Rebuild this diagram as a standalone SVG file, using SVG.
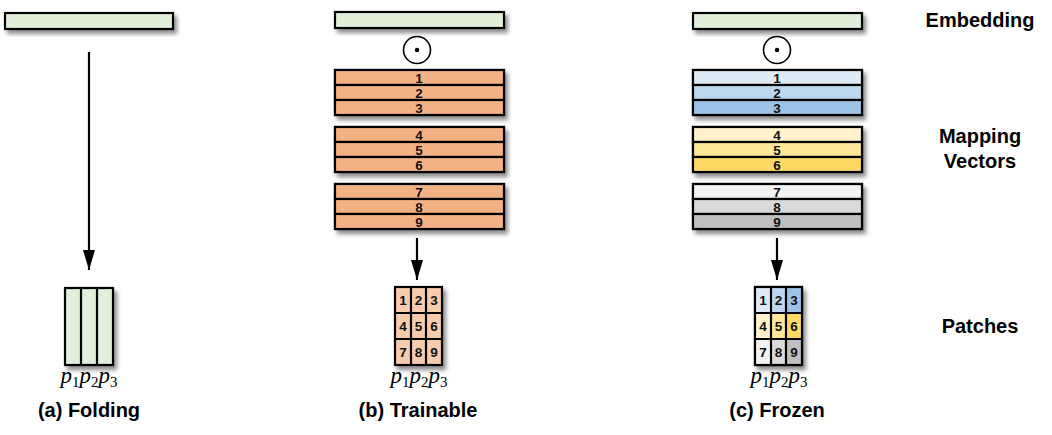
<svg xmlns="http://www.w3.org/2000/svg" width="1052" height="435" viewBox="0 0 1052 435">
<defs>
<filter id="sh" x="-10%" y="-30%" width="130%" height="180%">
<feDropShadow dx="3" dy="4" stdDeviation="2" flood-color="#000" flood-opacity="0.45"/>
</filter>
<marker id="arr" viewBox="0 0 20 12" refX="20" refY="6" markerWidth="20" markerHeight="12" markerUnits="userSpaceOnUse" orient="auto">
<path d="M0,0 L20,6 L0,12 Z" fill="#000"/>
</marker>
</defs>
<style>
.box{stroke:#000;stroke-width:2.2}
.g{fill:#E2EFDA}
.o{fill:#F4B183}
.lo{fill:#F8CBAD}
.b1{fill:#DEEBF7}.b2{fill:#BDD7EE}.b3{fill:#9DC3E6}
.y1{fill:#FFF2CC}.y2{fill:#FFE699}.y3{fill:#FFD966}
.k1{fill:#F2F2F2}.k2{fill:#D9D9D9}.k3{fill:#BFBFBF}
.ln{stroke:#000;stroke-width:2.2;fill:none}
.num{font-family:"Liberation Sans Narrow","Arial Narrow","Liberation Sans",Arial,sans-serif;font-stretch:condensed;font-weight:bold;font-size:13.5px;fill:#111;text-anchor:middle}
.lab{font-family:"Liberation Sans",Arial,sans-serif;font-weight:bold;font-size:20px;fill:#000;text-anchor:middle}
.math{font-family:"Liberation Serif","Times New Roman",serif;font-style:italic;font-size:23px;fill:#000;text-anchor:middle}
.sub{font-style:normal;font-size:15px}
.odot{stroke:#000;stroke-width:1.6;fill:#fff}
</style>

<g id="connectors">
<line class="ln" x1="89" y1="52" x2="89" y2="270" marker-end="url(#arr)"/>
<line class="ln" x1="417" y1="238" x2="417" y2="280" marker-end="url(#arr)"/>
<line class="ln" x1="777" y1="238" x2="777" y2="280" marker-end="url(#arr)"/>
</g>

<!-- Panel (a) -->
<g id="emb-a"><rect class="box g" x="5" y="13" width="168" height="16" filter="url(#sh)"/></g>
<g id="patch-a">
<rect class="box g" x="65" y="288" width="48" height="77" filter="url(#sh)"/>
<line class="ln" x1="81" y1="288" x2="81" y2="365"/>
<line class="ln" x1="97" y1="288" x2="97" y2="365"/>
</g>
<g id="label-a">
<text class="math" x="89" y="383">p<tspan class="sub" dy="4">1</tspan><tspan dy="-4">p</tspan><tspan class="sub" dy="4">2</tspan><tspan dy="-4">p</tspan><tspan class="sub" dy="4">3</tspan></text>
<text class="lab" x="89" y="417">(a) Folding</text>
</g>

<!-- Panel (b) -->
<g id="emb-b"><rect class="box g" x="335" y="12" width="169" height="16" filter="url(#sh)"/></g>
<g id="odot-b"><circle class="odot" cx="417" cy="50" r="13.5"/><circle cx="417" cy="50" r="2.2" fill="#000"/></g>
<g id="stack-b1">
<g filter="url(#sh)"><rect class="box o" x="335" y="70" width="169" height="45"/></g>
<rect class="box o" x="335" y="70" width="169" height="15"/>
<rect class="box o" x="335" y="85" width="169" height="15"/>
<rect class="box o" x="335" y="100" width="169" height="15"/>
<text class="num" x="419" y="82.5">1</text>
<text class="num" x="419" y="97.5">2</text>
<text class="num" x="419" y="112.5">3</text>
</g>
<g id="stack-b2">
<g filter="url(#sh)"><rect class="box o" x="335" y="127" width="169" height="45"/></g>
<rect class="box o" x="335" y="127" width="169" height="15"/>
<rect class="box o" x="335" y="142" width="169" height="15"/>
<rect class="box o" x="335" y="157" width="169" height="15"/>
<text class="num" x="419" y="139.5">4</text>
<text class="num" x="419" y="154.5">5</text>
<text class="num" x="419" y="169.5">6</text>
</g>
<g id="stack-b3">
<g filter="url(#sh)"><rect class="box o" x="335" y="184" width="169" height="45"/></g>
<rect class="box o" x="335" y="184" width="169" height="15"/>
<rect class="box o" x="335" y="199" width="169" height="15"/>
<rect class="box o" x="335" y="214" width="169" height="15"/>
<text class="num" x="419" y="196.5">7</text>
<text class="num" x="419" y="211.5">8</text>
<text class="num" x="419" y="226.5">9</text>
</g>
<g id="patch-b">
<rect class="box lo" x="395" y="287" width="47" height="78" filter="url(#sh)"/>
<line class="ln" x1="411" y1="287" x2="411" y2="365"/>
<line class="ln" x1="426" y1="287" x2="426" y2="365"/>
<line class="ln" x1="395" y1="313" x2="442" y2="313"/>
<line class="ln" x1="395" y1="339" x2="442" y2="339"/>
<text class="num" x="403" y="305">1</text><text class="num" x="418.5" y="305">2</text><text class="num" x="434" y="305">3</text>
<text class="num" x="403" y="331">4</text><text class="num" x="418.5" y="331">5</text><text class="num" x="434" y="331">6</text>
<text class="num" x="403" y="357">7</text><text class="num" x="418.5" y="357">8</text><text class="num" x="434" y="357">9</text>
</g>
<g id="label-b">
<text class="math" x="419" y="383">p<tspan class="sub" dy="4">1</tspan><tspan dy="-4">p</tspan><tspan class="sub" dy="4">2</tspan><tspan dy="-4">p</tspan><tspan class="sub" dy="4">3</tspan></text>
<text class="lab" x="418" y="417">(b) Trainable</text>
</g>

<!-- Panel (c) -->
<g id="emb-c"><rect class="box g" x="693" y="13" width="169" height="16" filter="url(#sh)"/></g>
<g id="odot-c"><circle class="odot" cx="777" cy="50" r="13.5"/><circle cx="777" cy="50" r="2.2" fill="#000"/></g>
<g id="stack-c1">
<g filter="url(#sh)"><rect class="box b1" x="693" y="70" width="169" height="45"/></g>
<rect class="box b1" x="693" y="70" width="169" height="15"/>
<rect class="box b2" x="693" y="85" width="169" height="15"/>
<rect class="box b3" x="693" y="100" width="169" height="15"/>
<text class="num" x="777" y="82.5">1</text>
<text class="num" x="777" y="97.5">2</text>
<text class="num" x="777" y="112.5">3</text>
</g>
<g id="stack-c2">
<g filter="url(#sh)"><rect class="box y1" x="693" y="127" width="169" height="45"/></g>
<rect class="box y1" x="693" y="127" width="169" height="15"/>
<rect class="box y2" x="693" y="142" width="169" height="15"/>
<rect class="box y3" x="693" y="157" width="169" height="15"/>
<text class="num" x="777" y="139.5">4</text>
<text class="num" x="777" y="154.5">5</text>
<text class="num" x="777" y="169.5">6</text>
</g>
<g id="stack-c3">
<g filter="url(#sh)"><rect class="box k1" x="693" y="184" width="169" height="45"/></g>
<rect class="box k1" x="693" y="184" width="169" height="15"/>
<rect class="box k2" x="693" y="199" width="169" height="15"/>
<rect class="box k3" x="693" y="214" width="169" height="15"/>
<text class="num" x="777" y="196.5">7</text>
<text class="num" x="777" y="211.5">8</text>
<text class="num" x="777" y="226.5">9</text>
</g>
<g id="patch-c">
<rect class="box" fill="#fff" x="755" y="287" width="47" height="78" filter="url(#sh)"/>
<rect class="b1" x="755" y="287" width="16" height="26"/><rect class="b2" x="771" y="287" width="15" height="26"/><rect class="b3" x="786" y="287" width="16" height="26"/>
<rect class="y1" x="755" y="313" width="16" height="26"/><rect class="y2" x="771" y="313" width="15" height="26"/><rect class="y3" x="786" y="313" width="16" height="26"/>
<rect class="k1" x="755" y="339" width="16" height="26"/><rect class="k2" x="771" y="339" width="15" height="26"/><rect class="k3" x="786" y="339" width="16" height="26"/>
<rect class="box" fill="none" x="755" y="287" width="47" height="78"/>
<line class="ln" x1="771" y1="287" x2="771" y2="365"/>
<line class="ln" x1="786" y1="287" x2="786" y2="365"/>
<line class="ln" x1="755" y1="313" x2="802" y2="313"/>
<line class="ln" x1="755" y1="339" x2="802" y2="339"/>
<text class="num" x="763" y="305">1</text><text class="num" x="778.5" y="305">2</text><text class="num" x="794" y="305">3</text>
<text class="num" x="763" y="331">4</text><text class="num" x="778.5" y="331">5</text><text class="num" x="794" y="331">6</text>
<text class="num" x="763" y="357">7</text><text class="num" x="778.5" y="357">8</text><text class="num" x="794" y="357">9</text>
</g>
<g id="label-c">
<text class="math" x="779" y="383">p<tspan class="sub" dy="4">1</tspan><tspan dy="-4">p</tspan><tspan class="sub" dy="4">2</tspan><tspan dy="-4">p</tspan><tspan class="sub" dy="4">3</tspan></text>
<text class="lab" x="777" y="417">(c) Frozen</text>
</g>

<!-- Row labels -->
<g id="row-labels">
<text class="lab" x="980" y="27">Embedding</text>
<text class="lab" x="980" y="143">Mapping</text>
<text class="lab" x="980" y="168">Vectors</text>
<text class="lab" x="980" y="333">Patches</text>
</g>
</svg>
